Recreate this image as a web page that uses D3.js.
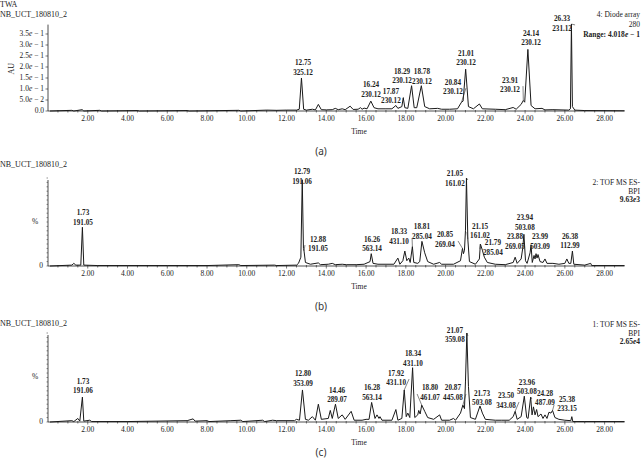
<!DOCTYPE html>
<html>
<head>
<meta charset="utf-8">
<script src="https://cdn.jsdelivr.net/npm/d3@7"></script>
<style>
  body { margin: 0; background: #fff; }
  text { font-family: "Liberation Serif", "DejaVu Serif", serif; fill: #222; }
  .panel-tag { font-family: "Noto Sans", sans-serif; font-size: 10px; fill: #333; }
</style>
</head>
<body>
<div id="wrapper"></div>
<script>
// ---- data (time in min) ----
// (a) diode array trace, AU
const uvTrace = [
  [0.1,0],[1.2,0.003],[1.3,0],[1.72,0.006],[1.8,0],[2.6,0.003],[2.7,0],[4.5,0.002],[4.6,0],
  [7.0,0.002],[7.1,0],[9.6,0.003],[9.7,0],[11.0,0.004],[11.5,0.003],[12.0,0.004],[12.5,0.004],
  [12.64,0.008],[12.75,0.15],[12.86,0.008],[13.0,0.004],[13.3,0.008],[13.45,0.005],[13.6,0.03],
  [13.75,0.006],[14.0,0.005],[14.3,0.006],[14.45,0.012],[14.6,0.006],[14.8,0.01],[14.95,0.006],
  [15.2,0.022],[15.35,0.007],[15.6,0.008],[15.72,0.015],[15.8,0.008],[15.9,0.013],[16.05,0.01],
  [16.24,0.045],[16.4,0.015],[16.6,0.01],[17.0,0.01],[17.3,0.01],[17.5,0.025],[17.6,0.012],
  [17.8,0.02],[17.87,0.06],[17.95,0.015],[18.1,0.012],[18.29,0.115],[18.42,0.015],[18.55,0.015],
  [18.78,0.115],[18.95,0.02],[19.2,0.01],[19.6,0.012],[19.8,0.008],[20.2,0.008],[20.6,0.01],
  [20.8,0.04],[20.88,0.045],[21.01,0.19],[21.15,0.02],[21.4,0.01],[21.7,0.032],[21.85,0.01],
  [22.5,0.008],[23.0,0.006],[23.4,0.016],[23.55,0.008],[23.8,0.03],[23.91,0.048],[23.98,0.04],
  [24.14,0.28],[24.3,0.025],[24.5,0.01],[24.85,0.012],[25.0,0.005],[25.4,0.006],[26.2,0.004],
  [26.28,0.01],[26.33,0.395],[26.38,0.02],[26.5,0.004],[27.0,0.002],[29,0.001]
];
// (b) TOF MS ES- BPI, %
const msTraceB = [
  [0.1,0],[1.2,1],[1.3,3],[1.4,1],[1.65,1],[1.73,44],[1.8,1],[2.5,0.5],[4,0.5],[6,0.5],[8,0.5],
  [9.6,1.5],[9.7,0.5],[11.4,1],[11.5,0.5],[12.5,1],[12.6,3],[12.72,10],[12.79,98],[12.85,20],
  [12.88,17],[12.95,4],[13.2,2],[13.6,3.5],[13.7,1.5],[14.1,2],[14.3,3],[14.45,1.5],[14.8,2],
  [15.0,1.5],[15.5,1.5],[15.9,2],[16.2,5],[16.26,14],[16.35,3],[16.6,2],[17.4,2],[17.6,9],
  [17.7,2],[17.85,6],[17.95,17],[18.05,6],[18.15,9],[18.22,4],[18.33,22],[18.4,4],[18.6,3],
  [18.7,5],[18.81,28],[18.95,15],[19.1,5],[19.4,2],[19.7,4],[19.8,2],[20.4,2],[20.75,6],
  [20.85,20],[20.9,14],[20.95,18],[21.0,40],[21.05,100],[21.12,30],[21.2,5],[21.5,2],[21.7,8],
  [21.75,25],[21.85,18],[21.95,10],[22.1,4],[22.5,2],[23.0,1.5],[23.4,4],[23.5,10],[23.6,3],
  [23.8,8],[23.88,20],[23.94,36],[24.02,6],[24.1,3],[24.25,15],[24.3,24],[24.36,4],[24.45,12],
  [24.5,8],[24.55,14],[24.6,9],[24.65,13],[24.75,5],[24.9,4],[25.0,8],[25.1,3],[25.4,3],
  [25.7,2],[26.0,3],[26.1,8],[26.2,3],[26.3,3],[26.38,17],[26.45,2],[27.0,1],[27.3,3],
  [27.35,0.5],[29,0.5]
];
// (c) TOF MS ES- BPI, %
const msTraceC = [
  [0.1,0],[1.2,1.5],[1.3,0.5],[1.5,4],[1.6,1],[1.73,28],[1.8,1],[2.1,2],[2.2,0.5],[4,0.5],
  [7.0,1.5],[7.3,3.5],[7.4,1],[8.0,1.5],[8.1,0.5],[9.2,1.5],[9.7,2],[9.8,0.5],[10.8,2],
  [10.9,0.5],[11.3,2],[11.5,1.5],[12.4,1.5],[12.5,3],[12.65,2],[12.8,36],[12.95,3],[13.1,2],
  [13.3,6],[13.45,2],[13.6,20],[13.75,3],[14.1,4],[14.2,13],[14.3,4],[14.46,20],[14.6,4],
  [14.8,8],[14.95,3],[15.25,12],[15.4,2],[15.8,2],[16.0,3],[16.15,3],[16.28,22],[16.45,4],
  [16.55,8],[16.65,4],[16.7,6],[16.8,2],[17.3,2],[17.5,14],[17.6,2],[17.8,4],[17.92,36],
  [18.02,6],[18.1,10],[18.2,5],[18.34,61],[18.45,5],[18.6,8],[18.65,13],[18.72,9],[18.8,19],
  [18.95,12],[19.1,5],[19.4,3],[19.7,8],[19.8,2],[20.2,2],[20.4,4],[20.5,2],[20.75,10],
  [20.87,19],[20.95,15],[21.0,45],[21.07,100],[21.15,40],[21.25,5],[21.5,3],[21.73,18],
  [21.85,10],[22.0,3],[22.5,2],[22.8,2],[23.2,2],[23.4,6],[23.5,12],[23.6,3],[23.8,6],
  [23.96,29],[24.08,5],[24.15,4],[24.28,28],[24.35,8],[24.42,17],[24.5,8],[24.58,14],
  [24.65,6],[24.8,9],[24.9,4],[25.0,8],[25.1,4],[25.2,11],[25.3,10],[25.38,13],[25.5,5],
  [25.7,3],[26.0,2],[26.3,1.5],[26.35,6],[26.4,0.5],[27,0.5],[29,0.5]
];

// peak labels: [rt, m/z, label time, label level (2nd line), pointer]
const uvLabels = [
  ["12.75","325.12",12.83,0.173,false],
  ["16.24","230.12",16.25,0.073,false],
  ["17.87","230.12",17.25,0.045,true],
  ["18.29","230.12",17.81,0.136,false],
  ["18.78","230.12",18.81,0.134,false],
  ["20.84","230.12",20.37,0.086,true],
  ["21.01","230.12",21.03,0.218,false],
  ["23.91","230.12",23.24,0.095,true],
  ["24.14","230.12",24.30,0.309,false],
  ["26.33","231.12",25.86,0.373,true]
];
const msLabelsB = [
  ["1.73","191.05",1.76,48.9,false],
  ["12.79","191.06",12.78,95.5,false],
  ["12.88","191.05",13.58,19.3,true],
  ["16.26","563.14",16.30,19.3,false],
  ["18.33","431.10",17.66,27.3,true],
  ["18.81","285.04",18.81,33,false],
  ["20.85","269.04",19.97,23.9,true],
  ["21.05","161.02",20.47,93.2,true],
  ["21.15","161.02",21.73,34,true],
  ["21.79","285.04",22.38,14.8,true],
  ["23.88","269.05",23.49,21.6,false],
  ["23.94","503.08",23.99,43.2,false],
  ["23.99","503.09",24.75,21.6,false],
  ["26.38","112.99",26.26,22.7,false]
];
const msLabelsC = [
  ["1.73","191.06",1.76,34.8,false],
  ["12.80","353.09",12.83,42.7,false],
  ["14.46","289.07",14.54,24.7,false],
  ["16.28","563.14",16.30,27,false],
  ["17.92","431.10",17.51,43.8,true],
  ["18.34","431.10",18.36,65.2,false],
  ["18.80","461.07",19.22,27,true],
  ["20.87","445.08",20.37,27,true],
  ["21.07","359.08",20.47,92.1,true],
  ["21.73","503.08",21.83,21.3,false],
  ["23.50","343.08",23.04,18,true],
  ["23.96","503.08",24.09,33.7,false],
  ["24.28","487.09",25.0,21.3,true],
  ["25.38","233.15",26.11,14.6,true]
];

const xTickValues = d3.range(2, 29, 2);
const uvTickValues = [0, 0.05, 0.1, 0.15, 0.2, 0.25, 0.3, 0.35];

// ---- layout ----
const width = 642, height = 467;
const svg = d3.select("#wrapper").append("svg")
  .attr("width", width).attr("height", height);

const xScale = d3.scaleLinear().domain([0, 29]).range([48, 624.5]);

const panels = [
  { trace: uvTrace, labels: uvLabels, domain: [0, 0.4018], base: 111, top: 22.6, tag: "(a)", tagY: 152,
    titles: ["TWA", "NB_UCT_180810_2"], titleY: [5, 15],
    info: ["4: Diode array", "280"], infoY: [15, 25], key: ["Range: 4.018", "e", " − 1"], keyY: 35, uv: true },
  { trace: msTraceB, labels: msLabelsB, domain: [0, 100], base: 266, top: 178, tag: "(b)", tagY: 307,
    titles: ["NB_UCT_180810_2"], titleY: [165],
    info: ["2: TOF MS ES-", "BPI"], infoY: [183, 192], key: ["9.63", "e", "3"], keyY: 200 },
  { trace: msTraceC, labels: msLabelsC, domain: [0, 100], base: 422, top: 333, tag: "(c)", tagY: 453,
    titles: ["NB_UCT_180810_2"], titleY: [324],
    info: ["1: TOF MS ES-", "BPI"], infoY: [325, 334], key: ["2.65", "e", "4"], keyY: 342 }
];

panels.forEach((p) => {
  const g = svg.append("g");
  const yScale = d3.scaleLinear().domain(p.domain).range([p.base, p.top]);

  // titles
  p.titles.forEach((t, i) => g.append("text").attr("x", 0).attr("y", p.titleY[i])
    .attr("dominant-baseline", "middle").attr("font-size", 8).text(t));
  p.info.forEach((t, i) => g.append("text").attr("x", 640).attr("y", p.infoY[i])
    .attr("text-anchor", "end").attr("dominant-baseline", "middle").attr("font-size", 7.5).text(t));
  const key = g.append("text").attr("x", 640).attr("y", p.keyY).attr("text-anchor", "end")
    .attr("dominant-baseline", "middle").attr("font-size", 7.5).attr("font-weight", "bold");
  key.append("tspan").text(p.key[0]);
  key.append("tspan").attr("font-style", "italic").text(p.key[1]);
  key.append("tspan").text(p.key[2]);

  // x axis
  const xAxis = g.append("g").attr("transform", `translate(0,${p.base})`);
  xAxis.append("line").attr("x1", xScale(0)).attr("x2", xScale(29)).attr("stroke", "#222").attr("stroke-width", 0.8);
  xAxis.selectAll(".minor").data(d3.range(0.5, 29, 0.5)).join("line")
    .attr("x1", (d) => xScale(d)).attr("x2", (d) => xScale(d))
    .attr("y1", -1).attr("y2", (d) => (d % 2 === 0 ? 2.5 : 1.5)).attr("stroke", "#222").attr("stroke-width", 0.6);
  xAxis.selectAll(".tl").data(xTickValues).join("text")
    .attr("x", (d) => xScale(d)).attr("y", 8).attr("text-anchor", "middle")
    .attr("dominant-baseline", "middle").attr("font-size", 7.5).text((d) => d3.format(".2f")(d));
  xAxis.append("text").attr("x", 359).attr("y", 21).attr("text-anchor", "middle")
    .attr("dominant-baseline", "middle").attr("font-size", 7.5).text("Time");

  // y axis
  const yAxis = g.append("g");
  yAxis.append("line").attr("x1", 48).attr("x2", 48).attr("y1", p.base).attr("y2", p.top + 2)
    .attr("stroke", "#222").attr("stroke-width", 0.8);
  if (p.uv) {
    yAxis.selectAll(".yt").data(uvTickValues).join("line")
      .attr("x1", 45.5).attr("x2", 48).attr("y1", (d) => yScale(d)).attr("y2", (d) => yScale(d))
      .attr("stroke", "#222").attr("stroke-width", 0.6);
    const yl = yAxis.selectAll(".yl").data(uvTickValues).join("text")
      .attr("x", 44).attr("y", (d) => yScale(d)).attr("text-anchor", "end")
      .attr("dominant-baseline", "middle").attr("font-size", 7.5);
    yl.each(function (d) {
      const t = d3.select(this);
      if (d === 0) { t.text("0.0"); return; }
      const exp = Math.floor(Math.log10(d));
      t.append("tspan").text((d / Math.pow(10, exp)).toFixed(1));
      t.append("tspan").attr("font-style", "italic").text("e");
      t.append("tspan").text(" − " + (-exp));
    });
    yAxis.append("text").attr("transform", `translate(12,${(p.base + p.top) / 2 + 2}) rotate(-90)`)
      .attr("text-anchor", "middle").attr("dominant-baseline", "middle").attr("font-size", 8).text("AU");
  } else {
    yAxis.selectAll(".yt").data(d3.range(0, 101, 5)).join("line")
      .attr("x1", 46.5).attr("x2", 48).attr("y1", (d) => yScale(d)).attr("y2", (d) => yScale(d))
      .attr("stroke", "#222").attr("stroke-width", 0.5);
    yAxis.append("text").attr("x", 43).attr("y", p.base).attr("text-anchor", "end")
      .attr("dominant-baseline", "middle").attr("font-size", 7.5).text("0");
    yAxis.append("text").attr("x", 35).attr("y", yScale(50)).attr("text-anchor", "middle")
      .attr("dominant-baseline", "middle").attr("font-size", 7.5).text("%");
  }

  // trace
  const lineGenerator = d3.line().x((d) => xScale(d[0])).y((d) => yScale(d[1]));
  g.append("path").attr("d", lineGenerator(p.trace)).attr("fill", "none")
    .attr("stroke", "#1a1a1a").attr("stroke-width", 1).attr("stroke-linejoin", "round");

  // peak labels
  p.labels.forEach(([rt, mz, lx, ly, pointer]) => {
    const x = xScale(lx), y = yScale(ly);
    const lab = g.append("text").attr("x", x).attr("text-anchor", "middle")
      .attr("dominant-baseline", "middle").attr("font-size", 7.2).attr("font-weight", "bold").attr("fill", "#2a2a2a");
    lab.append("tspan").attr("x", x).attr("y", y - 9.5).text(rt);
    lab.append("tspan").attr("x", x).attr("y", y).text(mz);
    if (pointer) {
      // short lead from label to the peak it names
      const t = +rt;
      const near = p.trace.reduce((a, b) => (Math.abs(b[0] - t) < Math.abs(a[0] - t) ? b : a));
      const px = xScale(near[0]), py = yScale(near[1]);
      const sx = px > x ? x + 13 : x - 13;
      g.append("line").attr("x1", sx).attr("y1", y - 4).attr("x2", px).attr("y2", py)
        .attr("stroke", "#333").attr("stroke-width", 0.6);
    }
  });

  svg.append("text").attr("class", "panel-tag").attr("x", 321).attr("y", p.tagY)
    .attr("text-anchor", "middle").attr("dominant-baseline", "middle").text(p.tag);
});
</script>
</body>
</html>
